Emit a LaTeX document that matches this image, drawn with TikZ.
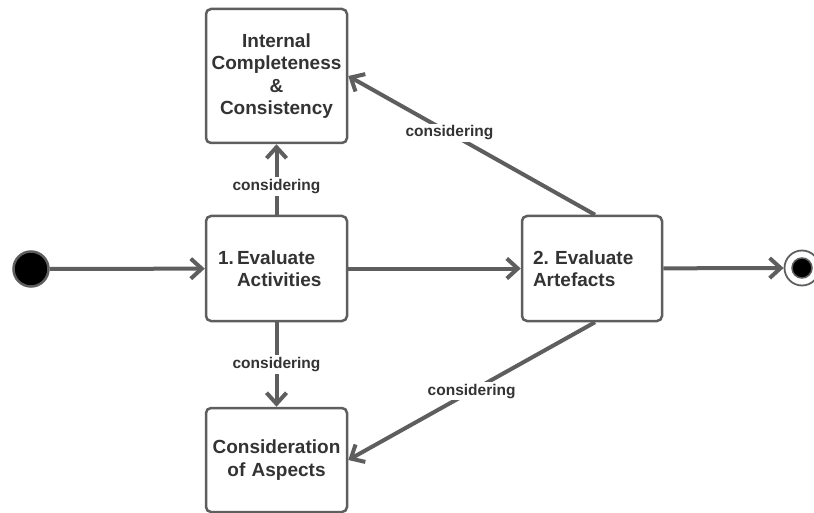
\documentclass[tikz,border=0pt]{standalone}
\usepackage{fontspec}
\setmainfont{Liberation Sans}
\usepackage{tikz}
\usetikzlibrary{arrows.meta}
\definecolor{linegray}{HTML}{5E5E5E}
\definecolor{textgray}{HTML}{333333}
\tikzstyle{activity} = [draw=linegray, line width=2.5pt, fill=white, rectangle, rounded corners=5pt, inner sep=0pt, text=textgray, font=\fontsize{19}{22.5}\selectfont\bfseries]
\tikzstyle{flow} = [draw=linegray, line width=4pt, -{Straight Barb[length=11pt,width=20pt]}]
\tikzstyle{guard} = [fill=white, text=textgray, inner sep=2pt, font=\fontsize{15.5}{18}\selectfont\bfseries]
\begin{document}
\begin{tikzpicture}[x=1pt,y=-1pt]
	\useasboundingbox (0,0) rectangle (814,513);
	% activities
	\node[activity, minimum width=141pt, minimum height=105pt, text width=117pt, inner xsep=12pt, align=left](activities) at (276.5,268.5){\makebox[19pt][l]{1.}Evaluate\\\hspace*{19pt}Activities};
	\node[activity, minimum width=141pt, minimum height=134pt, text width=135pt, align=center](internal) at (276.5,76){Internal\\Completeness\\\&\\Consistency};
	\node[activity, minimum width=141pt, minimum height=104pt, text width=135pt, align=center](aspects) at (276.5,460){Consideration\\of Aspects};
	\node[activity, minimum width=140pt, minimum height=105pt, text width=118pt, inner xsep=11pt, align=left](artefacts) at (592,268.5){2.\ Evaluate\\Artefacts};
	% start and end
	\node[circle, draw=linegray, line width=2.5pt, fill=black, minimum size=35pt, inner sep=0pt](start) at (31,269){};
	\node[circle, draw=linegray, line width=1.8pt, fill=white, minimum size=35pt, inner sep=0pt](final) at (802,268){};
	\node[circle, draw=linegray, line width=1.5pt, fill=black, minimum size=20pt, inner sep=0pt](finaldot) at (final.center){};
	% flows
	\draw[flow] (start) -- (activities);
	\draw[flow] (activities) -- (artefacts);
	\draw[flow] (artefacts) -- (final);
	\draw[flow] (activities.north) -- node[guard, pos=0.4]{considering} (internal.south);
	\draw[flow] (activities.south) -- node[guard]{considering} (aspects.north);
	\draw[flow] ([xshift=3pt]artefacts.north) -- node[guard, pos=0.59]{considering} (internal.east);
	\draw[flow] ([xshift=3pt]artefacts.south) -- node[guard]{considering} (aspects.east);
\end{tikzpicture}
\end{document}
